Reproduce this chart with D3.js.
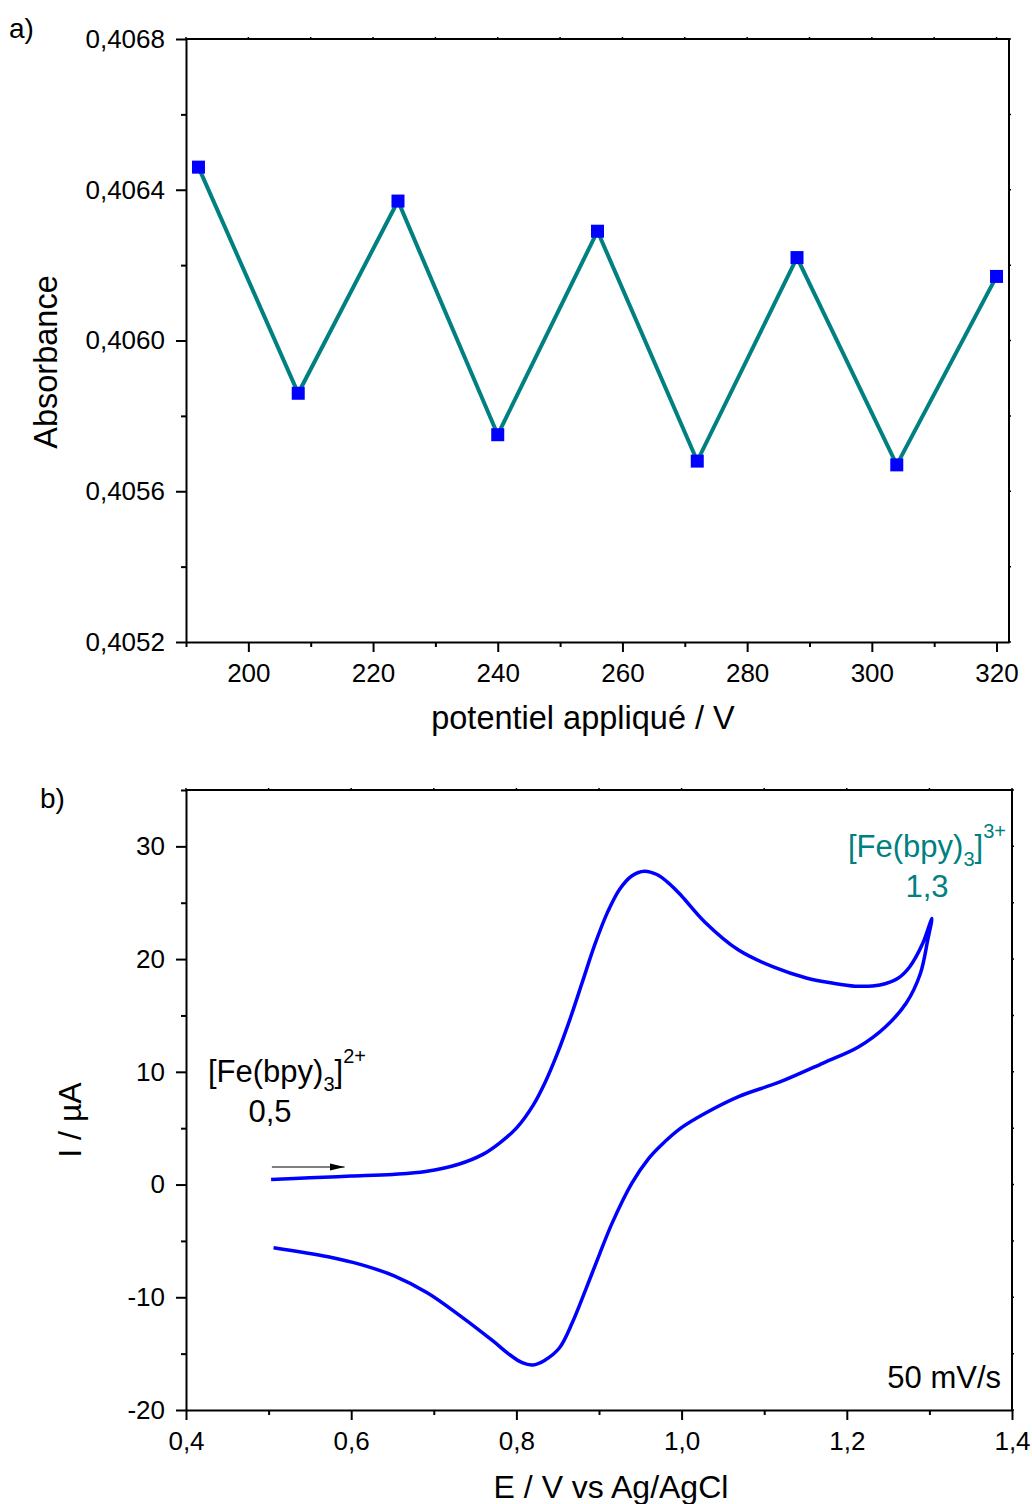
<!DOCTYPE html>
<html>
<head>
<meta charset="utf-8">
<script src="https://cdn.jsdelivr.net/npm/d3@7"></script>
<style>
  html, body { margin: 0; padding: 0; background: #fff; }
  svg { display: block; font-family: "Liberation Sans", Arial, sans-serif; }
</style>
</head>
<body>
<svg id="chart" width="1032" height="1504"></svg>
<script>
// ---------- Panel a) data ----------
const potentials = [192, 208, 224, 240, 256, 272, 288, 304, 320];
const absorbance = [0.40646, 0.40586, 0.40637, 0.40575, 0.40629, 0.40568, 0.40622, 0.40567, 0.40617];
const aXTicks = [200, 220, 240, 260, 280, 300, 320];
const aYTicks = [0.4052, 0.4056, 0.4060, 0.4064, 0.4068];

// ---------- Panel b) data (cyclic voltammogram) ----------
const forwardE = [0.503, 0.55, 0.60, 0.65, 0.69, 0.73, 0.76, 0.78, 0.80, 0.82, 0.835, 0.85, 0.865, 0.88, 0.895, 0.91, 0.925, 0.94, 0.955, 0.97, 0.985, 1.00, 1.028, 1.069, 1.111, 1.152, 1.18, 1.21, 1.24, 1.262, 1.276, 1.292, 1.303];
const forwardI = [0.45, 0.6, 0.75, 0.9, 1.15, 1.8, 2.7, 3.7, 5.0, 7.0, 9.1, 11.7, 14.7, 18.0, 21.3, 24.1, 26.2, 27.4, 27.8, 27.5, 26.7, 25.6, 23.3, 20.8, 19.3, 18.3, 17.9, 17.6, 17.7, 18.3, 19.3, 21.4, 23.6];
const reverseE = [1.303, 1.298, 1.289, 1.272, 1.247, 1.214, 1.172, 1.119, 1.069, 1.028, 0.999, 0.974, 0.96, 0.94, 0.916, 0.90, 0.884, 0.868, 0.852, 0.834, 0.82, 0.807, 0.792, 0.772, 0.732, 0.692, 0.652, 0.612, 0.572, 0.506];
const reverseI = [23.6, 21.7, 18.7, 16.1, 14.0, 12.2, 10.8, 9.1, 7.8, 6.3, 5.0, 3.4, 2.3, 0.15, -3.4, -6.3, -9.3, -12.2, -14.5, -15.6, -16.0, -15.8, -15.1, -13.9, -11.65, -9.6, -8.1, -7.1, -6.4, -5.6];
const bXTicks = [0.4, 0.6, 0.8, 1.0, 1.2, 1.4];
const bYTicks = [-20, -10, 0, 10, 20, 30];

const svg = d3.select("#chart");
const FONT = '"Liberation Sans", Arial, sans-serif';
const comma = (f) => (v) => f(v).replace(".", ",");

function frame(g, x, y, xTicks, xMinor, yTicks, yMinor, xFmt, yFmt) {
  const [x0, x1] = x.range();
  const [y0, y1] = y.range(); // y0 bottom, y1 top
  const xAxis = d3.axisBottom(x).tickValues(xTicks).tickSize(10).tickSizeOuter(0).tickPadding(12).tickFormat(xFmt);
  g.append("g").attr("transform", `translate(0,${y0})`).call(xAxis);
  const xm = d3.axisBottom(x).tickValues(xMinor).tickSize(5).tickSizeOuter(0).tickFormat("");
  g.append("g").attr("transform", `translate(0,${y0})`).call(xm).select(".domain").remove();
  const yAxis = d3.axisLeft(y).tickValues(yTicks).tickSize(10).tickSizeOuter(0).tickPadding(11).tickFormat(yFmt);
  g.append("g").attr("transform", `translate(${x0},0)`).call(yAxis);
  const ym = d3.axisLeft(y).tickValues(yMinor).tickSize(5).tickSizeOuter(0).tickFormat("");
  g.append("g").attr("transform", `translate(${x0},0)`).call(ym).select(".domain").remove();
  g.selectAll(".tick text").attr("font-size", 26).attr("fill", "#000").attr("font-family", FONT);
  g.selectAll(".tick line").attr("stroke", "#000").attr("stroke-width", 2);
  g.selectAll(".domain").attr("stroke", "#000").attr("stroke-width", 2);
  g.append("path")
    .attr("d", `M${x0},${y1}H${x1}V${y0}`)
    .attr("fill", "none").attr("stroke", "#000").attr("stroke-width", 2);
  g.append("g").selectAll("line").data(xTicks.concat(xMinor)).join("line")
    .attr("x1", d => x(d)).attr("x2", d => x(d)).attr("y1", y1).attr("y2", y1 - 2)
    .attr("stroke", "#000").attr("stroke-width", 1.5);
  g.append("g").selectAll("line").data(yTicks.concat(yMinor)).join("line")
    .attr("y1", d => y(d)).attr("y2", d => y(d)).attr("x1", x1).attr("x2", x1 + 2)
    .attr("stroke", "#000").attr("stroke-width", 1.5);
}

// ================= Panel a =================
{
  const x = d3.scaleLinear().domain([190, 322]).range([186, 1009]);
  const y = d3.scaleLinear().domain([0.4052, 0.4068]).range([642, 39]);
  const g = svg.append("g");
  const xMinor = d3.range(190, 321, 20);
  const yMinor = [0.4054, 0.4058, 0.4062, 0.4066];
  frame(g, x, y, aXTicks, xMinor, aYTicks, yMinor, d3.format("d"), comma(d3.format(".4f")));

  const pts = potentials.map((p, i) => [p, absorbance[i]]);
  g.append("path").datum(pts)
    .attr("d", d3.line().x(d => x(d[0])).y(d => y(d[1])))
    .attr("fill", "none").attr("stroke", "#008080").attr("stroke-width", 4).attr("stroke-linejoin", "miter");
  const s = 13;
  g.append("g").selectAll("rect").data(pts).join("rect")
    .attr("x", d => x(d[0]) - s / 2).attr("y", d => y(d[1]) - s / 2)
    .attr("width", s).attr("height", s).attr("fill", "#0000FF");

  g.append("text").attr("x", 583).attr("y", 729).attr("text-anchor", "middle")
    .attr("font-size", 32.5).text("potentiel appliqué / V");
  g.append("text").attr("transform", "translate(57,362) rotate(-90)").attr("text-anchor", "middle")
    .attr("font-size", 32.5).text("Absorbance");
  g.append("text").attr("x", 9).attr("y", 38).attr("font-size", 28).text("a)");
}

// ================= Panel b =================
{
  const x = d3.scaleLinear().domain([0.4, 1.4]).range([186, 1012]);
  const y = d3.scaleLinear().domain([-20, 35]).range([1410, 790]);
  const g = svg.append("g");
  const xMinor = [0.5, 0.7, 0.9, 1.1, 1.3];
  const yMinor = [-15, -5, 5, 15, 25, 35];
  frame(g, x, y, bXTicks, xMinor, bYTicks, yMinor, comma(d3.format(".1f")), v => String(v));

  const defs = svg.append("defs");
  defs.append("marker").attr("id", "arr").attr("viewBox", "0 0 10 10")
    .attr("refX", 10).attr("refY", 5).attr("markerWidth", 15).attr("markerHeight", 9)
    .attr("markerUnits", "userSpaceOnUse").attr("orient", "auto").attr("preserveAspectRatio", "none")
    .append("path").attr("d", "M0,1L10,5L0,9Z").attr("fill", "#000");

  const cv = forwardE.map((e, i) => [e, forwardI[i]])
    .concat(reverseE.map((e, i) => [e, reverseI[i]]).slice(1));
  const line = d3.line().x(d => x(d[0])).y(d => y(d[1])).curve(d3.curveCatmullRom.alpha(0.5));
  g.append("path").datum(cv).attr("d", line)
    .attr("fill", "none").attr("stroke", "#0000FF").attr("stroke-width", 3.5).attr("stroke-linejoin", "round");

  g.append("line").attr("x1", x(0.504)).attr("x2", x(0.592)).attr("y1", y(1.55)).attr("y2", y(1.55))
    .attr("stroke", "#555").attr("stroke-width", 1.5).attr("marker-end", "url(#arr)");

  const t1 = g.append("text").attr("x", 208).attr("y", 1082).attr("font-size", 31).attr("fill", "#000");
  t1.append("tspan").text("[Fe(bpy)");
  t1.append("tspan").attr("font-size", 20).attr("dy", 9).text("3");
  t1.append("tspan").attr("dy", -9).text("]");
  t1.append("tspan").attr("font-size", 20).attr("dy", -19).text("2+");
  g.append("text").attr("x", 270).attr("y", 1122).attr("text-anchor", "middle").attr("font-size", 31).text("0,5");

  const t2 = g.append("text").attr("x", 848).attr("y", 857).attr("font-size", 31).attr("fill", "#008080");
  t2.append("tspan").text("[Fe(bpy)");
  t2.append("tspan").attr("font-size", 20).attr("dy", 9).text("3");
  t2.append("tspan").attr("dy", -9).text("]");
  t2.append("tspan").attr("font-size", 20).attr("dy", -19).text("3+");
  g.append("text").attr("x", 927).attr("y", 897).attr("text-anchor", "middle").attr("font-size", 31)
    .attr("fill", "#008080").text("1,3");

  g.append("text").attr("x", 1001).attr("y", 1388).attr("text-anchor", "end").attr("font-size", 31).text("50 mV/s");

  g.append("text").attr("x", 611).attr("y", 1498).attr("text-anchor", "middle")
    .attr("font-size", 32).text("E / V vs Ag/AgCl");
  g.append("text").attr("transform", "translate(81,1120) rotate(-90)").attr("text-anchor", "middle")
    .attr("font-size", 32).text("I / µA");
  g.append("text").attr("x", 40).attr("y", 808).attr("font-size", 28).text("b)");
}
</script>
</body>
</html>
